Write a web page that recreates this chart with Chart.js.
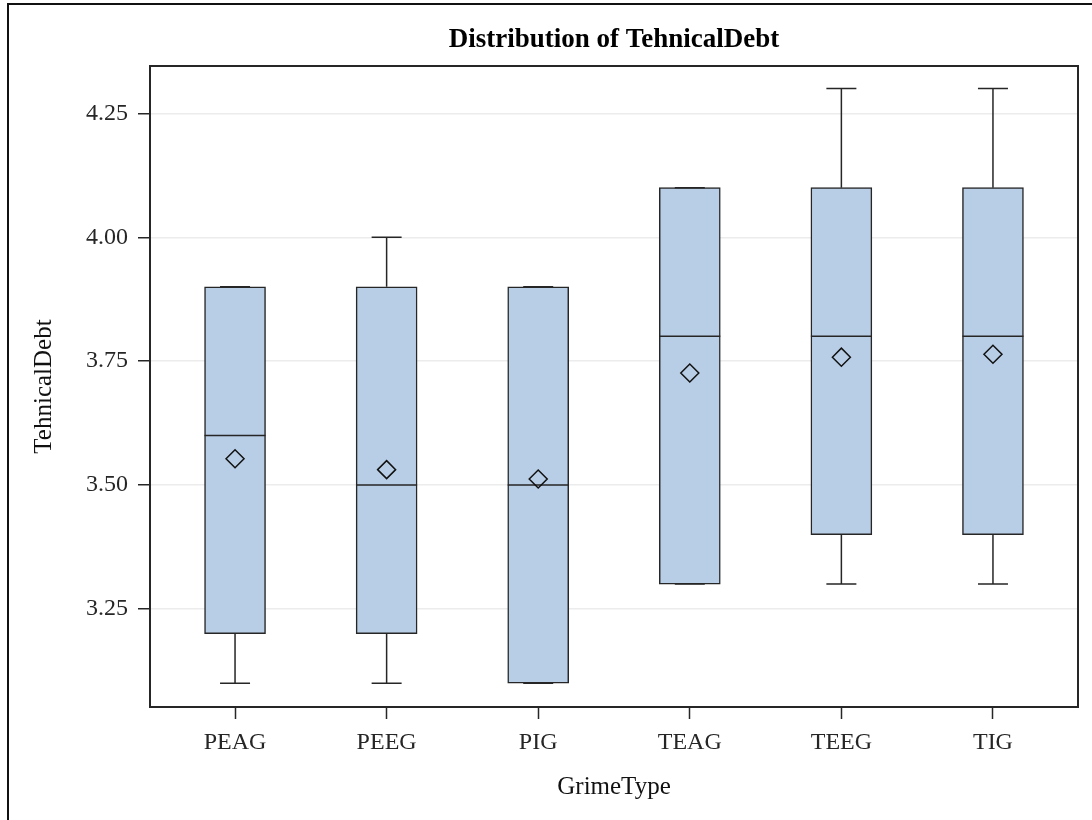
<!DOCTYPE html>
<html>
<head>
<meta charset="utf-8">
<title>Distribution of TehnicalDebt</title>
<script src="https://cdn.jsdelivr.net/npm/chart.js@4.4.1/dist/chart.umd.min.js"></script>
<style>
  html, body { margin: 0; padding: 0; background: #fff; }
  #wrap { width: 1092px; height: 820px; position: relative; }
</style>
</head>
<body>
<div id="wrap"><canvas id="chart" width="1092" height="820"></canvas></div>
<script>
// Box-plot summary per grime type
const categories = ['PEAG', 'PEEG', 'PIG', 'TEAG', 'TEEG', 'TIG'];
const minVals    = [3.1, 3.1, 3.1, 3.3, 3.3, 3.3];
const q1Vals     = [3.2, 3.2, 3.1, 3.3, 3.4, 3.4];
const medianVals = [3.6, 3.5, 3.5, 3.8, 3.8, 3.8];
const q3Vals     = [3.9, 3.9, 3.9, 4.1, 4.1, 4.1];
const maxVals    = [3.9, 4.0, 3.9, 4.1, 4.3, 4.3];
const meanVals   = [3.553, 3.531, 3.512, 3.726, 3.758, 3.764];
const yTicks     = [3.25, 3.5, 3.75, 4.0, 4.25];

const INK = '#262626';
const SERIF = "'Liberation Serif', 'Times New Roman', serif";

// Whiskers, caps and median lines, drawn right after the boxes
const boxPlotLines = {
  id: 'boxPlotLines',
  afterDatasetDraw(chart, args) {
    if (args.index !== 1) return;
    const {ctx, scales: {x, y}} = chart;
    const capHalf = 15, boxHalf = 30.5;
    ctx.save();
    ctx.strokeStyle = INK;
    ctx.lineWidth = 1.5;
    categories.forEach((c, i) => {
      const px = x.getPixelForValue(i);
      const yMin = y.getPixelForValue(minVals[i]);
      const yQ1 = y.getPixelForValue(q1Vals[i]);
      const yMed = y.getPixelForValue(medianVals[i]);
      const yQ3 = y.getPixelForValue(q3Vals[i]);
      const yMax = y.getPixelForValue(maxVals[i]);
      ctx.beginPath();
      ctx.moveTo(px, yQ3); ctx.lineTo(px, yMax);
      ctx.moveTo(px - capHalf, yMax); ctx.lineTo(px + capHalf, yMax);
      ctx.moveTo(px, yQ1); ctx.lineTo(px, yMin);
      ctx.moveTo(px - capHalf, yMin); ctx.lineTo(px + capHalf, yMin);
      ctx.moveTo(px - boxHalf, yMed); ctx.lineTo(px + boxHalf, yMed);
      ctx.stroke();
    });
    ctx.restore();
  }
};

// White page, outer frame and the full plot-area frame
const frame = {
  id: 'frame',
  beforeDraw(chart) {
    const {ctx, width, height} = chart;
    ctx.save();
    ctx.fillStyle = '#fff';
    ctx.fillRect(0, 0, width, height);
    ctx.strokeStyle = '#111';
    ctx.lineWidth = 2;
    ctx.strokeRect(8, 4, width + 50, height + 50);
    ctx.restore();
  },
  afterDraw(chart) {
    const {ctx, chartArea: a} = chart;
    ctx.save();
    ctx.strokeStyle = INK;
    ctx.lineWidth = 2;
    ctx.strokeRect(a.left, a.top, a.right - a.left, a.bottom - a.top);
    ctx.restore();
  }
};

new Chart(document.getElementById('chart'), {
  type: 'bar',
  data: {
    datasets: [
      {
        type: 'scatter',
        label: 'Mean',
        data: meanVals.map((v, i) => ({x: i, y: v})),
        pointStyle: 'rectRot',
        pointRadius: 9,
        pointBorderWidth: 1.5,
        borderColor: '#111',
        backgroundColor: 'rgba(0,0,0,0)',
        order: 0
      },
      {
        type: 'bar',
        label: 'TehnicalDebt',
        data: categories.map((c, i) => ({x: i, y: [q1Vals[i], q3Vals[i]]})),
        backgroundColor: '#B8CEE6',
        borderColor: INK,
        borderWidth: 1.5,
        borderSkipped: false,
        barThickness: 61,
        order: 1
      }
    ]
  },
  options: {
    responsive: false,
    animation: false,
    layout: { padding: { left: 0, right: 14, top: 0, bottom: 0 } },
    plugins: {
      legend: { display: false },
      tooltip: { enabled: false },
      title: {
        display: true,
        fullSize: false,
        text: 'Distribution of TehnicalDebt',
        color: '#000',
        font: { family: SERIF, size: 27, weight: 'bold', lineHeight: 1.2 },
        padding: { top: 24, bottom: 9.6 }
      }
    },
    scales: {
      x: {
        type: 'linear',
        offset: false,
        min: -0.561,
        max: 5.561,
        afterFit(s) { s.height = 113; },
        afterBuildTicks(s) { s.ticks = categories.map((c, i) => ({value: i})); },
        ticks: {
          callback: (v) => categories[v],
          font: { family: SERIF, size: 24 },
          color: INK,
          padding: 9,
          maxRotation: 0,
          autoSkip: false
        },
        grid: {
          offset: false,
          drawOnChartArea: false,
          drawTicks: true,
          tickLength: 12,
          tickColor: INK,
          tickWidth: 1.5
        },
        border: { display: true, color: INK, width: 2 },
        title: {
          display: true,
          text: 'GrimeType',
          color: '#111',
          font: { family: SERIF, size: 25, lineHeight: 1.2 },
          padding: { top: 0, bottom: 17.5 }
        }
      },
      y: {
        type: 'linear',
        min: 3.052,
        max: 4.3456,
        afterFit(s) { s.width = 150; },
        afterBuildTicks(s) { s.ticks = yTicks.map(v => ({value: v})); },
        ticks: {
          callback: (v) => Number(v).toFixed(2),
          font: { family: SERIF, size: 24 },
          color: INK,
          padding: 10
        },
        grid: {
          color: '#ececec',
          lineWidth: 1.5,
          drawTicks: true,
          tickLength: 12,
          tickColor: INK,
          tickWidth: 1.5
        },
        border: { display: true, color: INK, width: 2 },
        title: {
          display: true,
          text: 'TehnicalDebt',
          color: '#111',
          font: { family: SERIF, size: 25, lineHeight: 1.2 },
          padding: { top: 29, bottom: 0 }
        }
      }
    }
  },
  plugins: [frame, boxPlotLines]
});
</script>
</body>
</html>
